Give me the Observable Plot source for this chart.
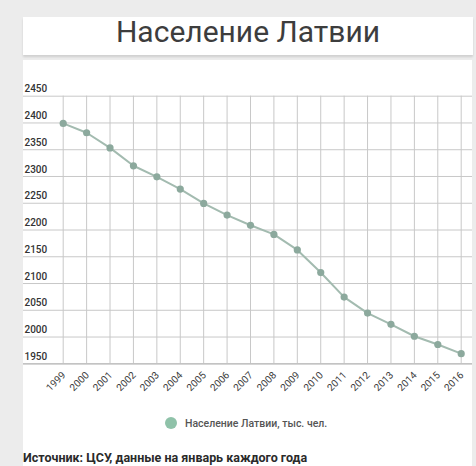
<!DOCTYPE html>
<html>
<head>
<meta charset="utf-8">
<script src="https://cdn.jsdelivr.net/npm/d3@7"></script>
<script src="https://cdn.jsdelivr.net/npm/@observablehq/plot@0.6"></script>
<style>
  html, body { margin: 0; padding: 0; }
  body { width: 476px; height: 466px; overflow: hidden; background: #ececec; position: relative; font-family: Roboto, "Noto Sans", sans-serif; }
  #titlecard { position: absolute; left: 23px; top: 17px; width: 450px; height: 38px; background: #fff; box-shadow: 0 2px 2px rgba(0,0,0,0.12); }
  #title { position: absolute; left: 23px; top: 13px; width: 450px; text-align: center; font-size: 30px; line-height: 38px; color: #3d3d3d; font-weight: 400; }
  #card { position: absolute; left: 23px; top: 60px; width: 449px; height: 420px; background: #fff; }
  #chart { position: absolute; left: 0; top: 0; }
  #legend { position: absolute; left: 165px; top: 415px; height: 16px; display: flex; align-items: center; font-size: 10.5px; font-weight: 500; color: #555; }
  #legend .dot { width: 12px; height: 12px; border-radius: 50%; background: #8fc2a9; margin-right: 8px; }
  #caption { position: absolute; left: 23px; top: 450px; font-size: 12.5px; line-height: 15px; font-weight: 700; color: #2a2a2a; white-space: nowrap; }
</style>
</head>
<body>
<div id="titlecard"></div>
<div id="title">Население Латвии</div>
<div id="card"><div id="chart"></div></div>
<div id="legend"><span class="dot"></span><span>Население Латвии, тыс. чел.</span></div>
<div id="caption">Источник: ЦСУ, данные на январь каждого года</div>
<script>
const years = [1999, 2000, 2001, 2002, 2003, 2004, 2005, 2006, 2007, 2008, 2009, 2010, 2011, 2012, 2013, 2014, 2015, 2016];
const population = [2399.2, 2381.7, 2353.4, 2320.0, 2299.4, 2276.5, 2249.7, 2227.9, 2208.8, 2191.8, 2162.8, 2120.5, 2074.6, 2044.8, 2023.8, 2001.5, 1986.1, 1968.9];
const yTicks = [1950, 2000, 2050, 2100, 2150, 2200, 2250, 2300, 2350, 2400, 2450];

const data = years.map((y, i) => ({year: y, value: population[i]}));

const W = 449, H = 340, mL = 39.7, mR = 11.3, mT = 35.7, mB = 36.7;

const chart = Plot.plot({
  width: W,
  height: H,
  marginLeft: mL,
  marginRight: mR,
  marginTop: mT,
  marginBottom: mB,
  style: {background: "transparent", fontFamily: "Roboto, sans-serif", overflow: "visible"},
  x: {domain: [1999, 2016], axis: null},
  y: {domain: [1950, 2450], axis: null},
  marks: [
    Plot.ruleY(yTicks, {y: d => d, stroke: "#c8c8c8", strokeWidth: 1, insetLeft: -mL, insetRight: -mR}),
    Plot.ruleX(years, {x: d => d, y1: 1950, y2: 2450, stroke: "#c8c8c8", strokeWidth: 1}),
    Plot.ruleY([1950], {stroke: "#bdbdbd", strokeWidth: 1.2, insetLeft: -mL, insetRight: -mR}),
    Plot.line(data, {x: "year", y: "value", stroke: "#a3bbb0", strokeWidth: 2}),
    Plot.dot(data, {x: "year", y: "value", r: 3.6, fill: "#8ca99d", stroke: "none"}),
    Plot.text(yTicks, {y: d => d, text: d => String(d), frameAnchor: "left", dx: -mL + 1, dy: -7, textAnchor: "start", fontSize: 10, fontWeight: 500, fill: "#333"}),
    Plot.text(years, {x: d => d, text: d => String(d), frameAnchor: "bottom", dx: 3, dy: 12, rotate: -45, textAnchor: "end", fontSize: 10, fill: "#3a3a3a"})
  ]
});
document.getElementById("chart").appendChild(chart);
</script>
</body>
</html>
